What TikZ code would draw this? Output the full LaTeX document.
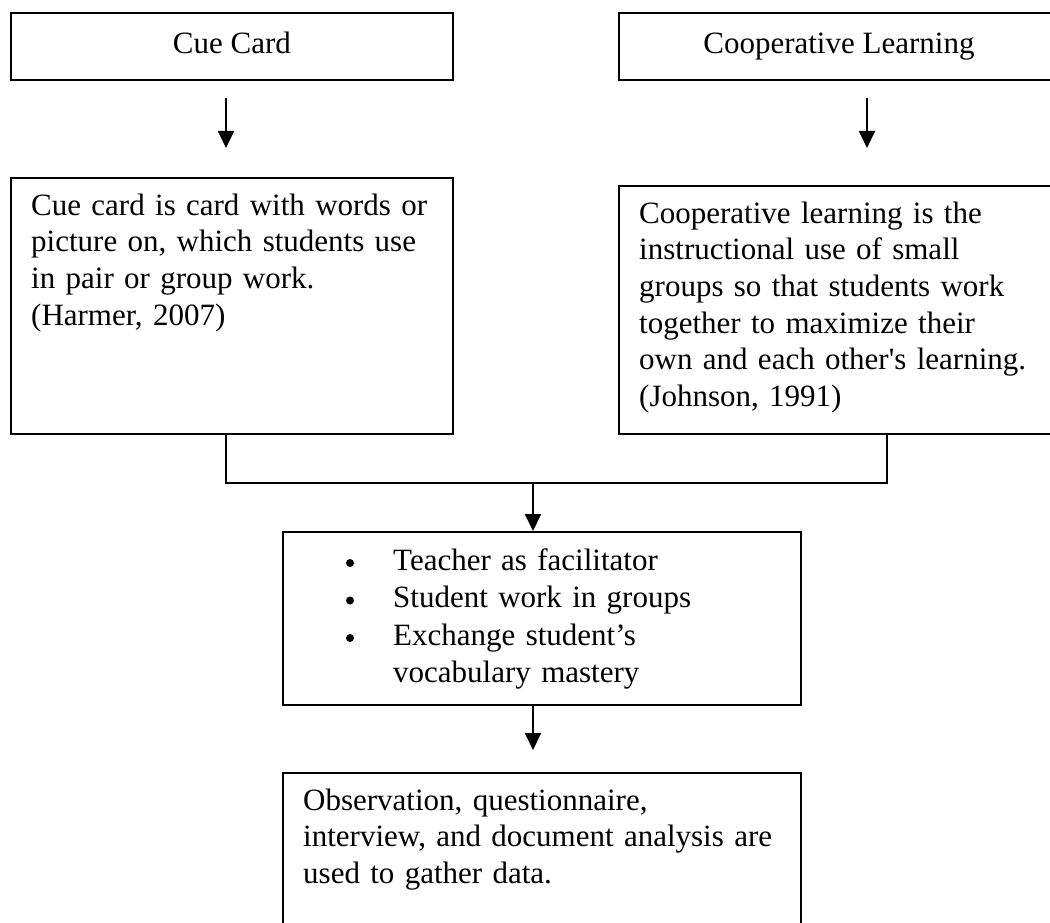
\documentclass[tikz,border=0pt]{standalone}
\usepackage{fontspec}
\setmainfont{Liberation Serif}
\usetikzlibrary{arrows.meta,positioning}

\tikzset{
  box/.style={draw,line width=1.8pt,inner sep=0pt,anchor=north west,
    text height=22pt,text depth=7pt,font=\fontsize{31}{36.7}\selectfont},
  txt/.style={inner sep=0pt,anchor=base west,align=left,
    font=\fontsize{31}{36.7}\selectfont},
  dot/.style={circle,fill=black,inner sep=0pt,minimum size=8pt},
  flow/.style={line width=1.8pt,-{Triangle[width=16pt,length=17pt]}},
  link/.style={line width=1.8pt}
}

\begin{document}
\begin{tikzpicture}[x=1pt,y=-1pt]
  \useasboundingbox (0,0) rectangle (1050,923);
  % headings
  \node[box,minimum width=442pt,minimum height=67pt] (cuecard) at (10,12) {Cue Card};
  \node[box,minimum width=440pt,minimum height=67pt] (coop) at (618,12) {Cooperative Learning};
  % definitions
  \node[box,minimum width=442pt,minimum height=256pt] (cuedef) at (10,177) {};
  \node[txt,text width=420pt] (cuedeftext) at (31,215) {Cue card is card with words or\\
    picture on, which students use\\ in pair or group work.\\ (Harmer, 2007)};
  \node[box,minimum width=440pt,minimum height=248pt] (coopdef) at (618,185) {};
  \node[txt,text width=420pt] (coopdeftext) at (639,223) {Cooperative learning is the\\
    instructional use of small\\ groups so that students work\\ together to maximize their\\
    own and each other\textquotesingle s learning.\\ (Johnson, 1991)};
  % steps
  \node[box,minimum width=518pt,minimum height=173pt] (steps) at (282,531) {};
  \foreach \y [count=\i] in {570,607.5,645}
    \node[dot] (bullet\i) at (350,\y-7) {};
  \node[txt,text width=390pt,font=\fontsize{31}{37.5}\selectfont] (stepstext) at (393,570)
    {Teacher as facilitator\\ Student work in groups\\ Exchange student’s\\ vocabulary mastery};
  % data
  \node[box,minimum width=518pt,minimum height=180pt] (gather) at (282,772) {};
  \node[txt,text width=490pt] (gathertext) at (303,810) {Observation, questionnaire,\\
    interview, and document analysis are\\ used to gather data.};
  % arrows
  \coordinate (cuestart) at (226,98);
  \coordinate (cueend) at (226,148);
  \coordinate (coopstart) at (867,98);
  \coordinate (coopend) at (867,148);
  \coordinate (joinl) at (226,483);
  \coordinate (joinr) at (887,483);
  \coordinate (joinm) at (533,483);
  \coordinate (gatherend) at (533,750);
  \draw[flow] (cuestart) -- (cueend);
  \draw[flow] (coopstart) -- (coopend);
  \draw[link] (cuedef.south -| joinl) -- (joinl) -- (joinr) -- (coopdef.south -| joinr);
  \draw[flow] (joinm) -- (steps.north -| joinm);
  \draw[flow] (steps.south -| joinm) -- (gatherend);
\end{tikzpicture}
\end{document}
